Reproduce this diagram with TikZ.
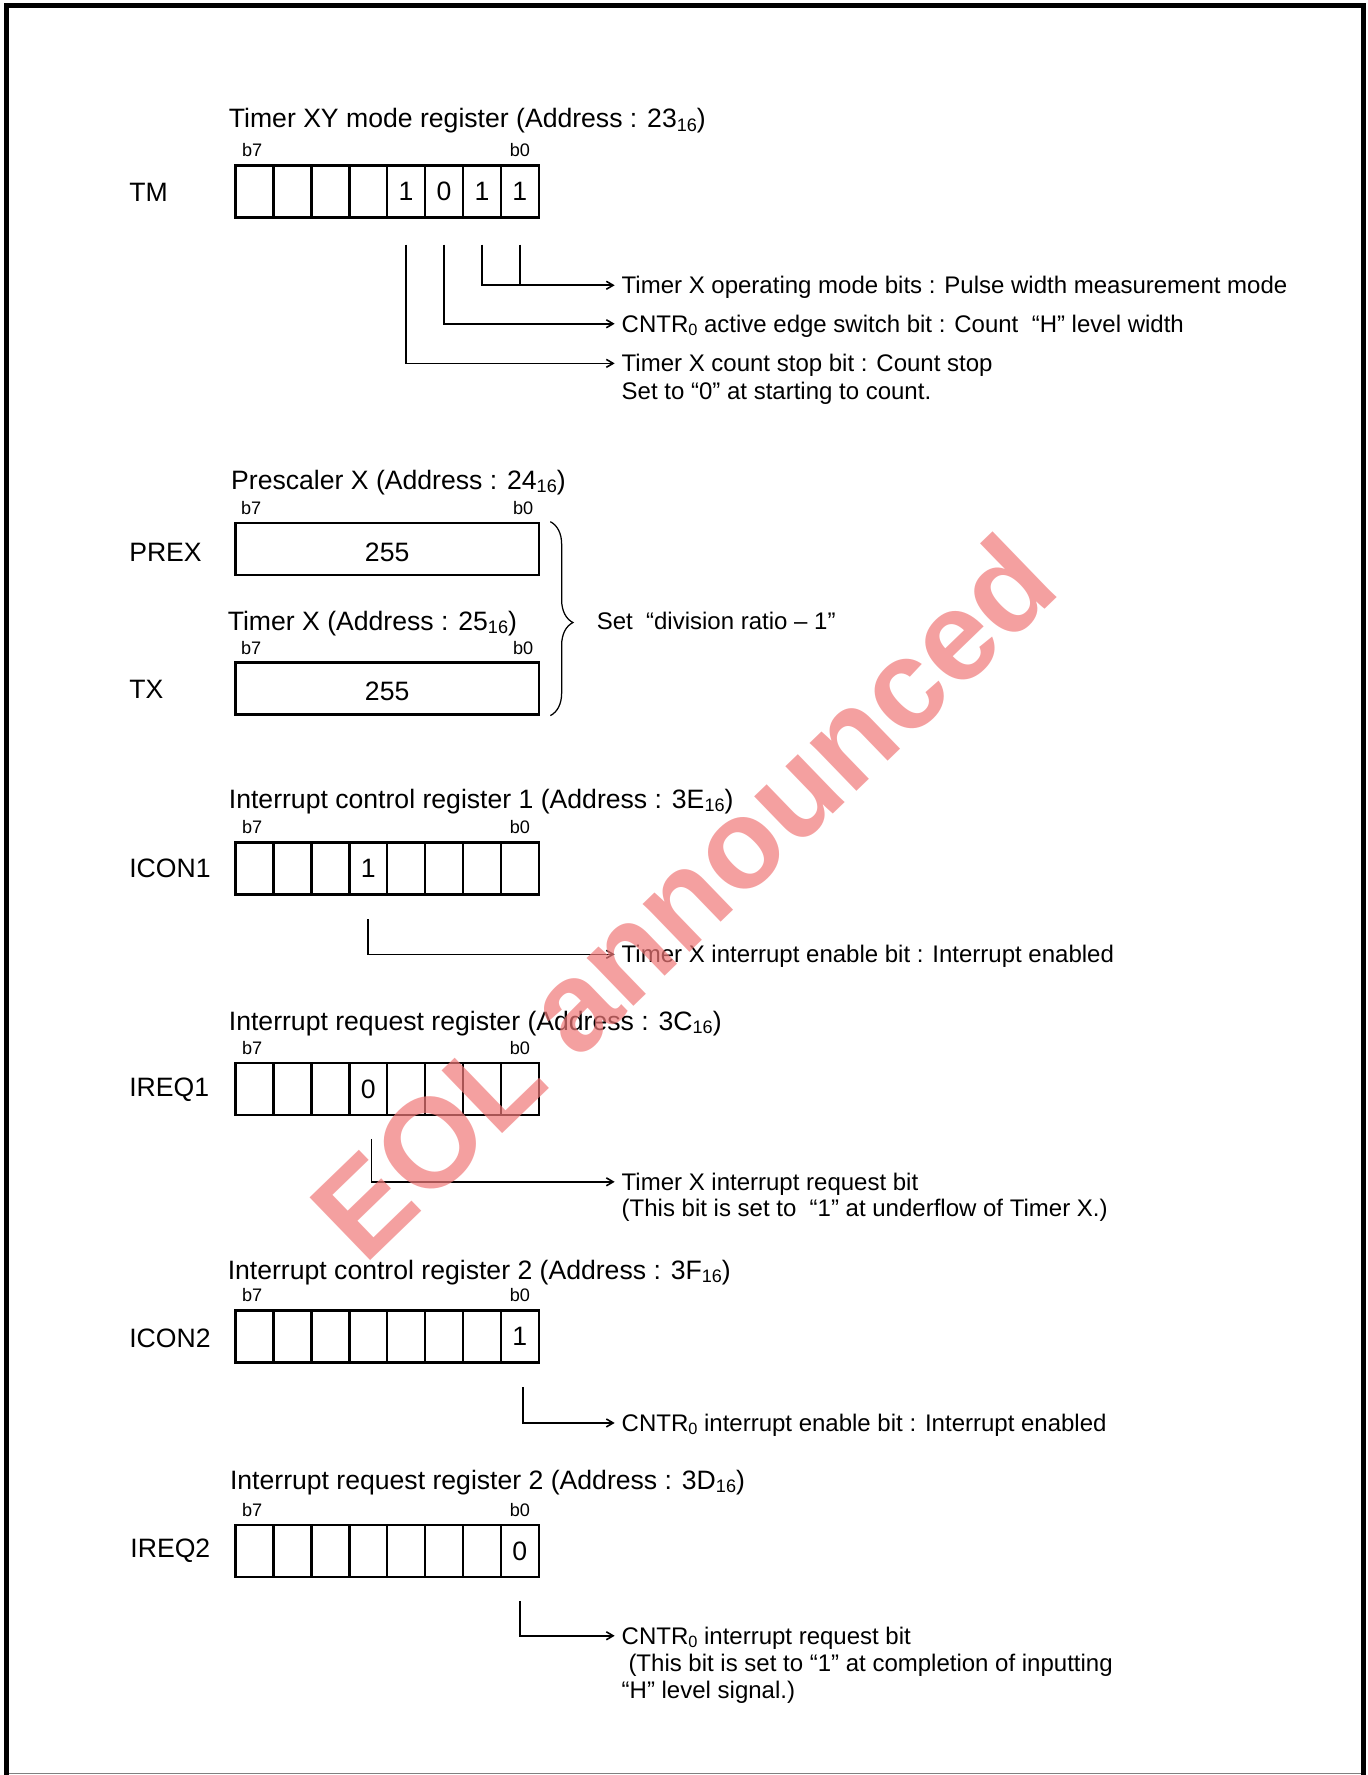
\documentclass[tikz,border=0pt]{standalone}
\usepackage{fontspec}
\setmainfont{Liberation Sans}
\usetikzlibrary{arrows.meta,positioning,calc,decorations.pathreplacing}
\definecolor{wmred}{RGB}{240,120,120}
\newcommand\lo[1]{\raisebox{-0.12em}{\scalebox{0.68}{#1}}}

\begin{document}
\begin{tikzpicture}[x=1pt, y=-1pt, >={Straight Barb[length=6pt,width=7pt,line width=1.4pt]},
    cell/.style={draw, line width=2.3pt, minimum width=33.5pt, minimum height=46pt, inner sep=0pt},
    regwide/.style={cell, minimum width=268pt, text height=23pt, text depth=1pt, font=\fontsize{23.5}{28}\selectfont},
    bitval/.style={inner sep=0pt, font=\fontsize{23.5}{28}\selectfont},
    regname/.style={anchor=west, inner sep=0pt, font=\fontsize{23.5}{28}\selectfont},
    regtitle/.style={anchor=west, inner sep=0pt, text height=17pt, text depth=1pt, font=\fontsize{23.5}{28}\selectfont},
    bitno/.style={inner sep=0pt, font=\fontsize{16}{18}\selectfont},
    desc/.style={anchor=west, inner sep=0pt, text height=16pt, text depth=1pt, font=\fontsize{21.2}{25}\selectfont},
    conn/.style={line width=1.4pt}]
  \useasboundingbox (0,0) rectangle (1208,1568);
  % --- page frame ---
  \draw[line width=4.5pt] (5.8,1568) -- (5.8,4.8) -- (1204.5,4.8) -- (1204.5,1568);
  \draw[gray, line width=1pt] (8,1567) -- (1202,1567);

  % --- TM: timer XY mode register ---
  \node[regtitle] (tmtitle) at (202,105) {Timer XY mode register (Address : 23\lo{16})};
  \foreach \i in {0,...,7}
    \node[cell] (tm\i) at ({459.25-33.5*\i},169) {};
  \node[bitno, above=6pt of tm7, xshift=-2pt] {b7};
  \node[bitno, above=6pt of tm0] {b0};
  \node[regname] (tmname) at (114,170) {TM};
  \node[bitval] at (tm3) {1};
  \node[bitval] at (tm2) {0};
  \node[bitval] at (tm1) {1};
  \node[bitval] at (tm0) {1};
  \node[desc] (tmmode) at (549,252) {Timer X operating mode bits : Pulse width measurement mode};
  \node[desc] (tmedge) at (549,286) {CNTR\lo{0} active edge switch bit : Count~ “H” level width};
  \node[desc] (tmstop) at (549,321) {Timer X count stop bit : Count stop};
  \node[desc] (tmstop2) at (549,345) {Set to “0” at starting to count.};
  \draw[conn,->] ([yshift=-23pt]tm1.south) |- ([xshift=-6pt]tmmode.west);
  \draw[conn] ([yshift=-23pt]tm0.south) -- (tm0 |- tmmode.west);
  \draw[conn,->] ([yshift=-23pt]tm2.south) |- ([xshift=-6pt]tmedge.west);
  \draw[conn,->] ([yshift=-23pt]tm3.south) |- ([xshift=-6pt]tmstop.west);

  % --- PREX and TX: prescaler X and timer X ---
  \node[regtitle] (prextitle) at (204,424) {Prescaler X (Address : 24\lo{16})};
  \node[regwide] (prex) at (342,485) {255};
  \node[bitno, above=6pt of prex.north west, anchor=south, xshift=15pt] {b7};
  \node[bitno, above=6pt of prex.north east, anchor=south, xshift=-15pt] {b0};
  \node[regname] (prexname) at (114,488) {PREX};
  \node[regtitle] (txtitle) at (201,549) {Timer X (Address : 25\lo{16})};
  \node[regwide] (tx) at (342,608) {255};
  \node[bitno, above=5pt of tx.north west, anchor=south, xshift=15pt] {b7};
  \node[bitno, above=5pt of tx.north east, anchor=south, xshift=-15pt] {b0};
  \node[regname] (txname) at (114,609) {TX};
  \draw[line width=1.1pt, decorate, decoration={brace, amplitude=20pt, aspect=0.52}]
    ([xshift=9pt]prex.north east) -- ([xshift=9pt]tx.south east);
  \node[desc] (setdiv) at (527,549) {Set~ “division ratio – 1”};

  % --- ICON1: interrupt control register 1 ---
  \node[regtitle] (icontitle) at (202,706) {Interrupt control register 1 (Address : 3E\lo{16})};
  \foreach \i in {0,...,7}
    \node[cell] (ica\i) at ({459.25-33.5*\i},767) {};
  \node[bitno, above=6pt of ica7, xshift=-2pt] {b7};
  \node[bitno, above=6pt of ica0] {b0};
  \node[regname] (iconname) at (114,767) {ICON1};
  \node[bitval] at (ica4) {1};
  \node[desc] (icaen) at (549,843) {Timer X interrupt enable bit : Interrupt enabled};
  \draw[conn,->] ([yshift=-21pt]ica4.south) |- ([xshift=-6pt]icaen.west);

  % --- IREQ1: interrupt request register 1 ---
  \node[regtitle] (ireqtitle) at (202,902) {Interrupt request register (Address : 3C\lo{16})};
  \foreach \i in {0,...,7}
    \node[cell] (ira\i) at ({459.25-33.5*\i},962) {};
  \node[bitno, above=6pt of ira7, xshift=-2pt] {b7};
  \node[bitno, above=6pt of ira0] {b0};
  \node[regname] (ireqname) at (114,963) {IREQ1};
  \node[bitval] at (ira4) {0};
  \node[desc] (irareq) at (549,1044) {Timer X interrupt request bit};
  \node[desc] (irareq2) at (549,1067) {(This bit is set to~ “1” at underflow of Timer X.)};
  \draw[conn,->] ([xshift=3pt,yshift=-20pt]ira4.south) |- ([xshift=-6pt]irareq.west);

  % --- ICON2: interrupt control register 2 ---
  \node[regtitle] (icontwotitle) at (201,1122) {Interrupt control register 2 (Address : 3F\lo{16})};
  \foreach \i in {0,...,7}
    \node[cell] (icb\i) at ({459.25-33.5*\i},1180.5) {};
  \node[bitno, above=6pt of icb7, xshift=-2pt] {b7};
  \node[bitno, above=6pt of icb0] {b0};
  \node[regname] (icontwoname) at (114,1182) {ICON2};
  \node[bitval] at (icb0) {1};
  \node[desc] (icben) at (549,1257) {CNTR\lo{0} interrupt enable bit : Interrupt enabled};
  \draw[conn,->] ([xshift=3pt,yshift=-21pt]icb0.south) |- ([xshift=-6pt]icben.west);

  % --- IREQ2: interrupt request register 2 ---
  \node[regtitle] (ireqtwotitle) at (203,1308) {Interrupt request register 2 (Address : 3D\lo{16})};
  \foreach \i in {0,...,7}
    \node[cell] (irb\i) at ({459.25-33.5*\i},1370) {};
  \node[bitno, above=6pt of irb7, xshift=-2pt] {b7};
  \node[bitno, above=6pt of irb0] {b0};
  \node[regname] (ireqtwoname) at (115,1370) {IREQ2};
  \node[bitval] at (irb0) {0};
  \node[desc] (irbreq) at (549,1445) {CNTR\lo{0} interrupt request bit};
  \node[desc] (irbreq2) at (555,1469) {(This bit is set to “1” at completion of inputting};
  \node[desc] (irbreq3) at (549,1493) {“H” level signal.)};
  \draw[conn,->] ([yshift=-20pt]irb0.south) |- ([xshift=-6pt]irbreq.west);

  % --- watermark ---
  \node[rotate=44, text=wmred, opacity=0.7, inner sep=0pt,
        font=\fontsize{112}{112}\selectfont\bfseries] (eol) at (603,792) {EOL announced};
\end{tikzpicture}
\end{document}
